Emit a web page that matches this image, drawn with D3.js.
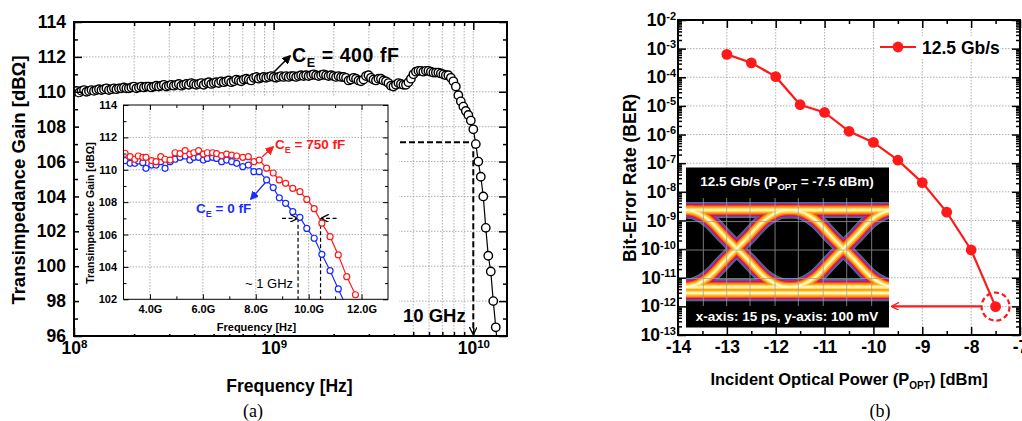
<!DOCTYPE html>
<html>
<head>
<meta charset="utf-8">
<script src="https://cdn.jsdelivr.net/npm/d3@7/dist/d3.min.js"></script>
<style>
  body { margin: 0; background: #fff; }
  svg { font-family: "Liberation Sans", Arial, Helvetica, sans-serif; font-weight: bold; }
</style>
</head>
<body>
<svg id="fig" width="1022" height="421"></svg>
<script>
// ---------- (a) main curve: log sweep from 100 MHz, 80 points per decade ----------
const sweepStartHz = 1e8;
const sweepPointsPerDecade = 80;
const gain400fF = [
  110.0, 110.05, 109.95, 110.05, 110.1, 110.0, 110.05, 110.1, 110.05, 110.1,
  110.15, 110.1, 110.15, 110.2, 110.1, 110.15, 110.2, 110.15, 110.2, 110.2,
  110.25, 110.2, 110.2, 110.25, 110.3, 110.2, 110.25, 110.3, 110.25, 110.3,
  110.3, 110.25, 110.3, 110.35, 110.3, 110.35, 110.4, 110.3, 110.35, 110.4,
  110.35, 110.4, 110.45, 110.35, 110.4, 110.45, 110.4, 110.5, 110.45, 110.4,
  110.45, 110.5, 110.4, 110.5, 110.55, 110.45, 110.5, 110.55, 110.5, 110.6,
  110.55, 110.6, 110.65, 110.55, 110.6, 110.7, 110.65, 110.6, 110.7, 110.75,
  110.7, 110.65, 110.8, 110.85, 110.75, 110.8, 110.85, 110.8, 110.85, 110.9,
  110.85, 110.8, 110.85, 110.9, 110.85, 110.9, 110.85, 110.9, 110.9, 110.85,
  110.9, 110.95, 110.9, 110.95, 110.9, 110.95, 111.0, 110.95, 110.9, 110.95,
  111.0, 110.95, 110.9, 110.95, 110.9, 110.85, 110.9, 110.85, 110.85, 110.8,
  110.65, 110.7, 110.8, 110.75, 110.65, 110.6, 110.7, 110.9, 110.95, 110.8,
  110.7, 110.65, 110.75, 110.75, 110.65, 110.6, 110.5, 110.35, 110.3, 110.4,
  110.5, 110.45, 110.4, 110.4, 110.55, 110.75, 111.0, 111.15, 111.2, 111.2,
  111.15, 111.2, 111.2, 111.15, 111.1, 111.1, 111.1, 111.05, 111.0, 110.95,
  110.95, 110.8, 110.6, 110.3, 109.8, 109.45, 109.15, 108.9, 108.67, 108.35,
  107.85, 107.0, 106.0, 105.13, 104.0, 102.2, 100.6, 99.7, 98.0, 96.5, 95.0
];
const freq400fF = gain400fF.map((g, i) => sweepStartHz * Math.pow(10, i / sweepPointsPerDecade));

// ---------- (a) inset ----------
const insetFreqGHz = [3.06, 3.25, 3.43, 3.56, 3.73, 3.85, 4.07, 4.23, 4.41, 4.57, 4.76, 4.95, 5.14, 5.33,
  5.51, 5.66, 5.84, 6.02, 6.17, 6.37, 6.52, 6.71, 6.9, 7.09, 7.28, 7.51, 7.72, 7.93, 8.13, 8.41,
  8.66, 8.89, 9.13, 9.4, 9.67, 9.93, 10.21, 10.5, 10.81, 11.12, 11.44, 11.77];
const insetGain750fF = [111.02, 110.81, 110.65, 110.85, 110.77, 110.77, 110.56, 110.5, 110.81, 110.65,
  110.6, 111.05, 111.0, 111.18, 110.97, 111.05, 111.18, 110.97, 111.05, 111.05, 111.0, 110.87, 110.97,
  110.91, 110.85, 110.77, 110.81, 110.5, 110.6, 110.1, 109.8, 109.37, 109.16, 108.85, 108.65, 108.17,
  107.6, 106.7, 105.87, 104.74, 103.4, 102.28];
const insetGain0fF = [110.56, 110.4, 110.4, 110.54, 110.44, 110.09, 110.29, 110.29, 110.5, 110.09,
  110.5, 110.65, 110.77, 110.85, 110.6, 110.77, 110.77, 110.6, 110.7, 110.77, 110.7, 110.5, 110.6,
  110.5, 110.4, 110.19, 110.29, 109.88, 109.88, 109.37, 108.9, 108.27, 107.93, 107.41, 107.06, 106.38,
  105.77, 104.78, 103.77, 102.64, 101.5, 100.4];

// ---------- (b) BER ----------
const powerDbm = [-13, -12.5, -12, -11.5, -11, -10.5, -10, -9.5, -9, -8.5, -8, -7.5];
const berValues = [6.3e-4, 3.2e-4, 1.05e-4, 1.1e-5, 5.9e-6, 1.3e-6, 5.3e-7, 1.27e-7, 2.1e-8, 1.95e-9, 9.3e-11, 9.8e-13];

// ---------- ticks ----------
const gainTicks = [96, 98, 100, 102, 104, 106, 108, 110, 112, 114];
const gainMinor = [97, 99, 101, 103, 105, 107, 109, 111, 113];
const freqDecades = [1e8, 1e9, 1e10];
const insetGainTicks = [102, 104, 106, 108, 110, 112, 114];
const insetGainMinor = [103, 105, 107, 109, 111, 113];
const insetFreqTicks = [4, 6, 8, 10, 12];
const insetFreqMinor = [5, 7, 9, 11];
const powerTicks = [-14, -13, -12, -11, -10, -9, -8, -7];
const powerMinor = [-13.5, -12.5, -11.5, -10.5, -9.5, -8.5, -7.5];
const berDecades = [1e-13, 1e-12, 1e-11, 1e-10, 1e-9, 1e-8, 1e-7, 1e-6, 1e-5, 1e-4, 1e-3, 1e-2];

// ---------- eye diagram (scope screenshot) ----------
const eyeCrossingsUI = [-1, 0, 1, 2];
const eyeEdgeShape = [[-0.6, 0], [-0.44, 0.01], [-0.27, 0.12], [-0.1, 0.36], [0, 0.5], [0.1, 0.64], [0.27, 0.88], [0.44, 0.99], [0.6, 1]];
const eyeRailLevels = [1, 0, -0.08];
const eyeGraticuleUI = [-0.313, -0.094, 0.125, 0.36, 0.578, 0.812, 1.032, 1.266];
const eyeGraticuleLevel = [0.11, 0.48, 0.85];
const eyeLayers = [
  { c: "#2f9a4c", w: 16 }, { c: "#4a46ee", w: 14.5 }, { c: "#c81fb8", w: 13 }, { c: "#c8142c", w: 11.5 },
  { c: "#f05a18", w: 9.5 }, { c: "#ffa424", w: 7 }, { c: "#ffdc50", w: 4.2 }, { c: "#fff8d0", w: 1.6 }
];

const svg = d3.select("#fig");
const defs = svg.append("defs");

function marker(id, color, open) {
  defs.append("marker").attr("id", id).attr("viewBox", "0 0 10 10").attr("refX", 9).attr("refY", 5)
    .attr("markerWidth", 8).attr("markerHeight", 8).attr("markerUnits", "userSpaceOnUse").attr("orient", "auto")
    .append("path").attr("d", open ? "M0,0 L10,5 L0,10" : "M0,0 L10,5 L0,10 z")
    .attr("fill", open ? "none" : color).attr("stroke", color).attr("stroke-width", open ? 1.6 : 1);
}
marker("ahBlack", "#000", false);
marker("ahBlackOpen", "#000", true);
marker("ahRed", "#ff1a1a", false);
marker("ahRedOpen", "#ff1a1a", true);
marker("ahBlue", "#1a2cff", false);

function clip(id, x0, y0, x1, y1) {
  defs.append("clipPath").attr("id", id).append("rect").attr("x", x0).attr("y", y0).attr("width", x1 - x0).attr("height", y1 - y0);
}

// axes on four sides, ticks pointing in
function axes(g, x, y, o) {
  const [xl, xr] = x.range(), [yb, yt] = y.range();
  const add = (axis, tx, ty, vals, len, pad) => g.append("g")
    .attr("transform", `translate(${tx},${ty})`)
    .call(axis.tickValues(vals).tickSizeInner(-len).tickSizeOuter(0).tickPadding(pad || 0).tickFormat(pad ? o.fmt : ""))
    .attr("font-family", null).attr("font-size", o.fs)
    .call(s => s.select(".domain").remove())
    .call(s => s.selectAll("line").attr("stroke", "#000").attr("stroke-width", o.tickW));
  const bot = add(d3.axisBottom(x), 0, yb, o.xMajor, o.major, o.xPad);
  add(d3.axisBottom(x), 0, yb, o.xMinor, o.minor);
  add(d3.axisTop(x), 0, yt, o.xMajor, o.major);
  add(d3.axisTop(x), 0, yt, o.xMinor, o.minor);
  const left = add(d3.axisLeft(y), xl, 0, o.yMajor, o.major, o.yPad);
  add(d3.axisLeft(y), xl, 0, o.yMinor, o.minor);
  add(d3.axisRight(y), xr, 0, o.yMajor, o.major);
  add(d3.axisRight(y), xr, 0, o.yMinor, o.minor);
  g.append("rect").attr("x", xl).attr("y", yt).attr("width", xr - xl).attr("height", yb - yt)
    .attr("fill", "none").attr("stroke", "#000").attr("stroke-width", o.frameW);
  return { bot, left };
}

function grid(g, x, y, xs, ys) {
  const [xl, xr] = x.range(), [yb, yt] = y.range();
  const gg = g.append("g").attr("stroke", "#9a9a9a").attr("stroke-width", 0.8).attr("stroke-dasharray", "1.5,1.5");
  gg.selectAll(".gx").data(xs).join("line").attr("x1", d => x(d)).attr("x2", d => x(d)).attr("y1", yt).attr("y2", yb);
  gg.selectAll(".gy").data(ys).join("line").attr("x1", xl).attr("x2", xr).attr("y1", d => y(d)).attr("y2", d => y(d));
}

function powTen(sel, supSize) {
  sel.selectAll(".tick text").each(function (d) {
    const t = d3.select(this);
    t.text("10");
    t.append("tspan").attr("dy", "-0.6em").attr("font-size", supSize).text(Math.round(Math.log10(d)));
  });
}

// ====================== (a) ======================
const gA = svg.append("g");
const xA = d3.scaleLog().domain([1e8, 1.475e10]).range([74, 507]);
const yA = d3.scaleLinear().domain([96, 114]).range([336, 22]);
const freqMinor = [];
freqDecades.forEach(d => d3.range(2, 10).forEach(m => { if (m * d < 1.475e10) freqMinor.push(m * d); }));

grid(gA, xA, yA, freqMinor.concat([1e9, 1e10]), [98, 100, 102, 104, 106, 108, 110, 112]);
clip("clipA", 74, 22, 507, 336);

// 3 dB markers
const g3 = gA.append("g").attr("stroke", "#000").attr("stroke-width", 2).attr("stroke-dasharray", "6,3").attr("fill", "none");
g3.append("line").attr("x1", 400).attr("x2", xA(1e10)).attr("y1", yA(107.1)).attr("y2", yA(107.1));
g3.append("line").attr("x1", xA(1e10)).attr("x2", xA(1e10)).attr("y1", yA(107.1)).attr("y2", yA(96) - 2)
  .attr("marker-end", "url(#ahBlackOpen)");

// main data
const lineA = d3.line().x((d, i) => xA(freq400fF[i])).y(d => yA(d));
const dA = gA.append("g").attr("clip-path", "url(#clipA)");
dA.append("path").datum(gain400fF).attr("d", lineA).attr("fill", "none").attr("stroke", "#000").attr("stroke-width", 1.2);
dA.selectAll("circle").data(gain400fF).join("circle")
  .attr("cx", (d, i) => xA(freq400fF[i])).attr("cy", d => yA(d)).attr("r", 4.2)
  .attr("fill", "#fff").attr("stroke", "#000").attr("stroke-width", 1.4);

const axA = axes(gA, xA, yA, { xMajor: freqDecades, xMinor: freqMinor, yMajor: gainTicks, yMinor: gainMinor,
  major: 8, minor: 4, tickW: 1.5, frameW: 2, fs: 17.5, xPad: 6, yPad: 8, fmt: d => d });
powTen(axA.bot, 11.5);

gA.append("text").attr("x", 403).attr("y", 322).attr("font-size", 18.5).text("10 GHz");
gA.append("line").attr("x1", 273).attr("y1", 73).attr("x2", 290).attr("y2", 56)
  .attr("stroke", "#000").attr("stroke-width", 1.6).attr("marker-end", "url(#ahBlack)");
gA.append("text").attr("x", 292).attr("y", 62).attr("font-size", 19.5).attr("letter-spacing", 0.6)
  .call(t => { t.append("tspan").text("C"); t.append("tspan").attr("dy", 5).attr("font-size", 12.5).text("E");
    t.append("tspan").attr("dy", -5).text(" = 400 fF"); });

gA.append("text").attr("transform", "translate(25,180) rotate(-90)").attr("text-anchor", "middle")
  .attr("font-size", 18.5).text("Transimpedance Gain [dBΩ]");
gA.append("text").attr("x", 289.5).attr("y", 392).attr("text-anchor", "middle").attr("font-size", 17.5).text("Frequency [Hz]");
gA.append("text").attr("x", 253).attr("y", 417).attr("text-anchor", "middle").attr("font-size", 18)
  .attr("font-weight", "normal").attr("font-family", "Liberation Serif, Times New Roman, serif").text("(a)");

// ---------- inset ----------
const gI = svg.append("g");
gI.append("rect").attr("x", 79).attr("y", 97).attr("width", 320).attr("height", 237).attr("fill", "#fff");
const xI = d3.scaleLinear().domain([3, 13]).range([123.5, 388]);
const yI = d3.scaleLinear().domain([102, 114]).range([299.3, 105]);
grid(gI, xI, yI, insetFreqTicks, [104, 106, 108, 110, 112]);
clip("clipI", 123.5, 105, 388, 299.3);

const gd = gI.append("g").attr("stroke", "#000").attr("stroke-width", 1.2).attr("stroke-dasharray", "4,2.5").attr("fill", "none");
gd.append("line").attr("x1", xI(9.6)).attr("x2", xI(9.6)).attr("y1", yI(107)).attr("y2", yI(102));
gd.append("line").attr("x1", xI(10.45)).attr("x2", xI(10.45)).attr("y1", yI(107)).attr("y2", yI(102));
gd.append("line").attr("x1", xI(9.6) - 16).attr("x2", xI(9.6) - 1).attr("y1", yI(107)).attr("y2", yI(107)).attr("marker-end", "url(#ahBlackOpen)");
gd.append("line").attr("x1", xI(10.45) + 16).attr("x2", xI(10.45) + 1).attr("y1", yI(107)).attr("y2", yI(107)).attr("marker-end", "url(#ahBlackOpen)");

const insetSeries = [{ g: insetGain0fF, c: "#1a2cff" }, { g: insetGain750fF, c: "#ff1a1a" }];
const dI = gI.append("g").attr("clip-path", "url(#clipI)");
insetSeries.forEach(s => {
  dI.append("path").datum(s.g).attr("fill", "none").attr("stroke", s.c).attr("stroke-width", 1.2)
    .attr("d", d3.line().x((d, i) => xI(insetFreqGHz[i])).y(d => yI(d)));
  dI.append("g").selectAll("circle").data(s.g).join("circle")
    .attr("cx", (d, i) => xI(insetFreqGHz[i])).attr("cy", d => yI(d)).attr("r", 3)
    .attr("fill", "#fff").attr("stroke", s.c).attr("stroke-width", 1.2);
});

axes(gI, xI, yI, { xMajor: insetFreqTicks, xMinor: insetFreqMinor, yMajor: insetGainTicks, yMinor: insetGainMinor,
  major: 5, minor: 3, tickW: 1, frameW: 1, fs: 11, xPad: 6, yPad: 6.5, fmt: d => d.toFixed(1) + "G" })
  .left.selectAll(".tick text").text(d => d);

gI.append("line").attr("x1", 262).attr("y1", 157).attr("x2", 273).attr("y2", 147)
  .attr("stroke", "#ff1a1a").attr("stroke-width", 1.3).attr("marker-end", "url(#ahRed)");
gI.append("line").attr("x1", 265).attr("y1", 183).attr("x2", 251).attr("y2", 199)
  .attr("stroke", "#1a2cff").attr("stroke-width", 1.3).attr("marker-end", "url(#ahBlue)");
const ceText = (x, y, col, val) => gI.append("text").attr("x", x).attr("y", y).attr("font-size", 13.5).attr("fill", col)
  .call(t => { t.append("tspan").text("C"); t.append("tspan").attr("dy", 3.5).attr("font-size", 9).text("E");
    t.append("tspan").attr("dy", -3.5).text(" = " + val); });
ceText(275, 149, "#ff1a1a", "750 fF");
ceText(196, 213, "#1a2cff", "0 fF");
gI.append("text").attr("x", 245).attr("y", 288).attr("font-size", 13).attr("font-weight", "normal").text("~ 1 GHz");
gI.append("text").attr("x", 256.5).attr("y", 331).attr("text-anchor", "middle").attr("font-size", 11).text("Frequency [Hz]");
gI.append("text").attr("transform", "translate(94,213) rotate(-90)").attr("text-anchor", "middle")
  .attr("font-size", 10.5).text("Transimpedance Gain [dBΩ]");

// ====================== (b) ======================
const gB = svg.append("g");
const xB = d3.scaleLinear().domain([-14, -7]).range([678, 1020]);
const yB = d3.scaleLog().domain([1e-13, 1e-2]).range([335, 20]);
const berMinor = [];
berDecades.slice(0, -1).forEach(d => d3.range(2, 10).forEach(m => berMinor.push(m * d)));
grid(gB, xB, yB, powerTicks.slice(1, -1), berDecades.slice(1, -1));

// legend
gB.append("rect").attr("x", 876).attr("y", 36).attr("width", 124).attr("height", 22).attr("fill", "#fff");
gB.append("line").attr("x1", 880).attr("x2", 916).attr("y1", 47).attr("y2", 47).attr("stroke", "#ff1a1a").attr("stroke-width", 2.2);
gB.append("circle").attr("cx", 898).attr("cy", 47).attr("r", 5.4).attr("fill", "#ff1a1a");
gB.append("text").attr("x", 922).attr("y", 53.5).attr("font-size", 17.5).text("12.5 Gb/s");

// eye diagram inset
const eye = gB.append("g");
eye.append("rect").attr("x", 686).attr("y", 167.5).attr("width", 203).attr("height", 160).attr("fill", "#000");
clip("clipEye", 686, 198, 889, 306);
const ex = d3.scaleLinear().domain([0, 1]).range([736.7, 843.3]);
const ey = d3.scaleLinear().domain([0, 1]).range([287, 210]);
const eyeLine = d3.line().x(d => ex(d[0])).y(d => ey(d[1])).curve(d3.curveMonotoneX);
const eyePaths = [];
eyeRailLevels.forEach(l => eyePaths.push([[-0.7, l], [1.6, l]]));
eyeCrossingsUI.forEach(c => {
  eyePaths.push(eyeEdgeShape.map(p => [c + p[0], p[1]]));
  eyePaths.push(eyeEdgeShape.map(p => [c + p[0], 1 - p[1]]));
});
const eyeG = eye.append("g").attr("clip-path", "url(#clipEye)");
eyeLayers.forEach(L => {
  eyeG.append("g").selectAll("path").data(eyePaths).join("path").attr("d", eyeLine)
    .attr("fill", "none").attr("stroke", L.c).attr("stroke-width", L.w).attr("stroke-linecap", "butt");
});
const grat = eyeG.append("g").attr("stroke", "#a0a0a0").attr("stroke-width", 1).attr("opacity", 0.75);
grat.selectAll(".vx").data(eyeGraticuleUI).join("line").attr("x1", d => ex(d)).attr("x2", d => ex(d)).attr("y1", 198).attr("y2", 306);
grat.selectAll(".hy").data(eyeGraticuleLevel).join("line").attr("x1", 686).attr("x2", 889).attr("y1", d => ey(d)).attr("y2", d => ey(d));
eye.append("text").attr("x", 787).attr("y", 186).attr("text-anchor", "middle").attr("font-size", 13.5).attr("fill", "#fff")
  .call(t => { t.append("tspan").text("12.5 Gb/s (P"); t.append("tspan").attr("dy", 3.5).attr("font-size", 9.5).text("OPT");
    t.append("tspan").attr("dy", -3.5).text(" = -7.5 dBm)"); });
eye.append("text").attr("x", 787).attr("y", 321).attr("text-anchor", "middle").attr("font-size", 13.5).attr("fill", "#fff")
  .text("x-axis: 15 ps, y-axis: 100 mV");

// BER data
gB.append("path").datum(berValues).attr("fill", "none").attr("stroke", "#ff1a1a").attr("stroke-width", 2.2)
  .attr("d", d3.line().x((d, i) => xB(powerDbm[i])).y(d => yB(d)));
gB.append("g").selectAll("circle").data(berValues).join("circle")
  .attr("cx", (d, i) => xB(powerDbm[i])).attr("cy", d => yB(d)).attr("r", 5.4).attr("fill", "#ff1a1a");

// highlight of the eye point
const last = berValues.length - 1;
gB.append("circle").attr("cx", xB(powerDbm[last])).attr("cy", yB(berValues[last])).attr("r", 14)
  .attr("fill", "none").attr("stroke", "#ff1a1a").attr("stroke-width", 2.2).attr("stroke-dasharray", "5,3");
gB.append("line").attr("x1", xB(powerDbm[last]) - 14).attr("x2", 892).attr("y1", yB(1e-12)).attr("y2", yB(1e-12))
  .attr("stroke", "#ff1a1a").attr("stroke-width", 2.2).attr("marker-end", "url(#ahRedOpen)");

const axB = axes(gB, xB, yB, { xMajor: powerTicks, xMinor: powerMinor, yMajor: berDecades, yMinor: berMinor,
  major: 8, minor: 4, tickW: 1.5, frameW: 2, fs: 17.5, xPad: 6, yPad: 2, fmt: d => d });
powTen(axB.left, 11);

gB.append("text").attr("transform", "translate(636,178) rotate(-90)").attr("text-anchor", "middle")
  .attr("font-size", 17.5).text("Bit-Error Rate (BER)");
gB.append("text").attr("x", 849).attr("y", 385).attr("text-anchor", "middle").attr("font-size", 16.5)
  .call(t => { t.append("tspan").text("Incident Optical Power (P"); t.append("tspan").attr("dy", 4).attr("font-size", 10).text("OPT");
    t.append("tspan").attr("dy", -4).text(") [dBm]"); });
gB.append("text").attr("x", 880).attr("y", 417).attr("text-anchor", "middle").attr("font-size", 18)
  .attr("font-weight", "normal").attr("font-family", "Liberation Serif, Times New Roman, serif").text("(b)");
</script>
</body>
</html>
